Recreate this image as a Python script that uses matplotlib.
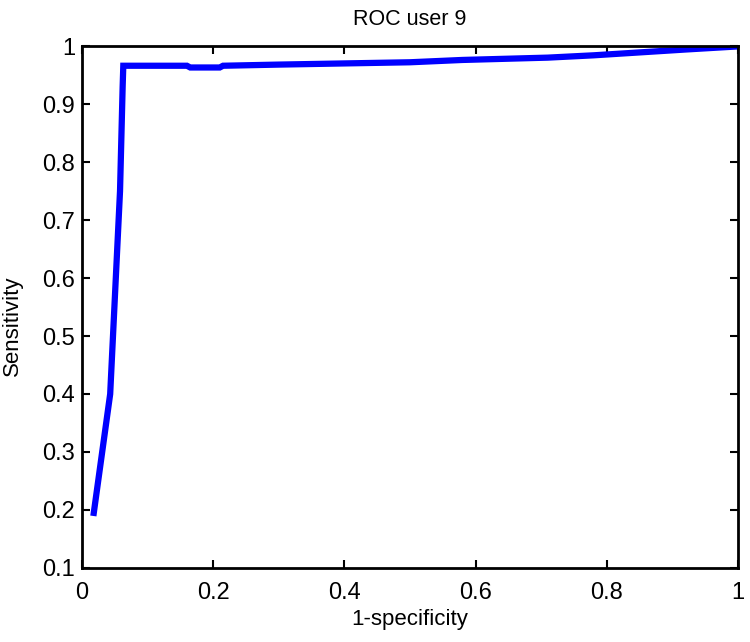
import numpy as np
import matplotlib.pyplot as plt

plt.rcParams['font.family'] = ['Liberation Sans', 'DejaVu Sans']

# ROC points
fpr = [0.018, 0.043, 0.058, 0.062, 0.063, 0.16, 0.165, 0.21, 0.215, 0.30, 0.40, 0.50,
       0.58, 0.71, 0.78, 0.85, 0.92, 0.995]
tpr = [0.195, 0.40, 0.75, 0.93, 0.966, 0.966, 0.963, 0.963, 0.966, 0.968, 0.970, 0.972,
       0.976, 0.980, 0.984, 0.989, 0.994, 0.999]

xticks = [0, 0.2, 0.4, 0.6, 0.8, 1]
xtick_labels = ['0', '0.2', '0.4', '0.6', '0.8', '1']
yticks = [0.1, 0.2, 0.3, 0.4, 0.5, 0.6, 0.7, 0.8, 0.9, 1]
ytick_labels = ['0.1', '0.2', '0.3', '0.4', '0.5', '0.6', '0.7', '0.8', '0.9', '1']

fig = plt.figure(figsize=(7.5, 6.42), dpi=100)
ax = fig.add_axes([0.1093, 0.1153, 0.8747, 0.813])

ax.plot(fpr, tpr, color='#0000ff', lw=4.5, solid_joinstyle='miter')

ax.set_xlim(0, 1)
ax.set_ylim(0.1, 1)
ax.set_xticks(xticks)
ax.set_xticklabels(xtick_labels)
ax.set_yticks(yticks)
ax.set_yticklabels(ytick_labels)
ax.tick_params(direction='in', length=6, width=1.5, labelsize=17, top=True, right=True,
               colors='black')
ax.tick_params(axis='y', pad=5)
ax.tick_params(axis='x', pad=10)
for s in ax.spines.values():
    s.set_linewidth(2)

ax.set_xlabel('1-specificity', fontsize=16, labelpad=4)
ax.set_ylabel('Sensitivity', fontsize=16)
ax.yaxis.set_label_coords(-0.09, 0.465)
ax.set_title('ROC user 9', fontsize=15.5, pad=15)

fig.savefig('out.png', dpi=100)
